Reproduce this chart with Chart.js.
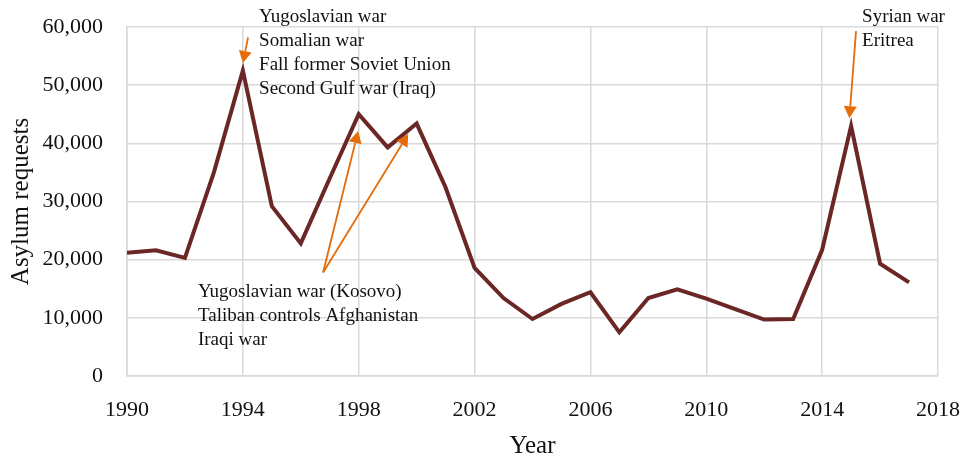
<!DOCTYPE html>
<html>
<head>
<meta charset="utf-8">
<script src="https://cdn.jsdelivr.net/npm/chart.js@4"></script>
<style>
  html, body { margin: 0; padding: 0; background: #fff; }
  #wrap { width: 962px; height: 461px; }
</style>
</head>
<body>
<div id="wrap"><canvas id="asylumChart"></canvas></div>
<script>
// Asylum requests per year
const years = [1990, 1991, 1992, 1993, 1994, 1995, 1996, 1997, 1998, 1999,
  2000, 2001, 2002, 2003, 2004, 2005, 2006, 2007, 2008, 2009,
  2010, 2011, 2012, 2013, 2014, 2015, 2016, 2017];
const requests = [21200, 21600, 20300, 35000, 52500, 29200, 22800, 34000, 45000, 39300,
  43400, 32400, 18600, 13400, 9800, 12400, 14400, 7500, 13400, 14900,
  13300, 11500, 9700, 9800, 21700, 43000, 19300, 16100];

const xTicks = [1990, 1994, 1998, 2002, 2006, 2010, 2014, 2018];
const yTicks = [0, 10000, 20000, 30000, 40000, 50000, 60000];

// annotation texts, anchored in data space (year, value)
const noteTexts = [
  { at: [1994.56, 61800], lines: ['Yugoslavian war', 'Somalian war', 'Fall former Soviet Union', 'Second Gulf war (Iraq)'] },
  { at: [1992.45, 14400], lines: ['Yugoslavian war (Kosovo)', 'Taliban controls Afghanistan', 'Iraqi war'] },
  { at: [2015.38, 61800], lines: ['Syrian war', 'Eritrea'] }
];
// arrows: from -> tip, data space
const arrows = [
  { from: [1994.18, 58200], to: [1994.0, 53800] },
  { from: [1996.77, 17800], to: [1997.98, 42100] },
  { from: [1996.77, 17800], to: [1999.71, 41600] },
  { from: [2015.17, 59300], to: [2014.94, 44300] }
];

const serif = '"Liberation Serif", "Times New Roman", serif';
const orange = '#E46C0A';

const notesPlugin = {
  id: 'notes',
  afterDatasetsDraw(chart) {
    const ctx = chart.ctx;
    const xs = chart.scales.x, ys = chart.scales.y;
    ctx.save();
    // arrows
    arrows.forEach(a => {
      const x1 = xs.getPixelForValue(a.from[0]), y1 = ys.getPixelForValue(a.from[1]);
      const x2 = xs.getPixelForValue(a.to[0]), y2 = ys.getPixelForValue(a.to[1]);
      const ang = Math.atan2(y2 - y1, x2 - x1);
      const headLen = 12, headW = 6.5;
      const bx = x2 - headLen * Math.cos(ang), by = y2 - headLen * Math.sin(ang);
      ctx.strokeStyle = orange;
      ctx.fillStyle = orange;
      ctx.lineWidth = 1.8;
      ctx.beginPath();
      ctx.moveTo(x1, y1);
      ctx.lineTo(bx, by);
      ctx.stroke();
      ctx.beginPath();
      ctx.moveTo(x2, y2);
      ctx.lineTo(bx + headW * Math.sin(ang), by - headW * Math.cos(ang));
      ctx.lineTo(bx - headW * Math.sin(ang), by + headW * Math.cos(ang));
      ctx.closePath();
      ctx.fill();
    });
    // texts
    ctx.font = '19px ' + serif;
    ctx.fillStyle = '#111';
    ctx.textAlign = 'left';
    ctx.textBaseline = 'middle';
    noteTexts.forEach(n => {
      const x = xs.getPixelForValue(n.at[0]);
      const y = ys.getPixelForValue(n.at[1]);
      n.lines.forEach((line, i) => ctx.fillText(line, x, y + i * 24));
    });
    ctx.restore();
  }
};

new Chart(document.getElementById('asylumChart'), {
  type: 'line',
  data: {
    datasets: [{
      label: 'Asylum requests',
      data: years.map((y, i) => ({ x: y, y: requests[i] })),
      borderColor: '#6B2626',
      borderWidth: 4,
      pointRadius: 0,
      tension: 0,
      fill: false
    }]
  },
  options: {
    responsive: true,
    maintainAspectRatio: false,
    animation: false,
    locale: 'en-US',
    layout: { padding: { top: 27, right: 24, left: 0, bottom: 0 } },
    plugins: { legend: { display: false }, tooltip: { enabled: false } },
    scales: {
      x: {
        type: 'linear',
        min: 1990,
        max: 2018,
        afterFit(scale) {
          scale.height = 85;
          scale.paddingLeft = 0;
          scale.paddingRight = 0;
        },
        afterBuildTicks(scale) { scale.ticks = xTicks.map(v => ({ value: v })); },
        grid: { color: '#d9d9d9', lineWidth: 1.5, drawTicks: false },
        border: { color: '#d9d9d9', width: 1.5 },
        ticks: {
          padding: 21,
          color: '#111',
          font: { family: serif, size: 22 },
          maxRotation: 0,
          callback: v => String(v)
        },
        title: {
          display: true,
          text: 'Year',
          color: '#111',
          font: { family: serif, size: 25 },
          padding: { top: 0, bottom: 0 }
        }
      },
      y: {
        min: 0,
        max: 60000,
        afterFit(scale) {
          scale.width = 127;
          scale.paddingTop = 0;
          scale.paddingBottom = 0;
        },
        afterBuildTicks(scale) { scale.ticks = yTicks.map(v => ({ value: v })); },
        grid: { color: '#d9d9d9', lineWidth: 1.5, drawTicks: false },
        border: { color: '#d9d9d9', width: 1.5 },
        ticks: {
          padding: 24,
          color: '#111',
          font: { family: serif, size: 22 },
          callback: v => v.toLocaleString('en-US')
        },
        title: {
          display: true,
          text: 'Asylum requests',
          color: '#111',
          font: { family: serif, size: 25 },
          padding: { top: 6, bottom: 0 }
        }
      }
    }
  },
  plugins: [notesPlugin]
});
</script>
</body>
</html>
